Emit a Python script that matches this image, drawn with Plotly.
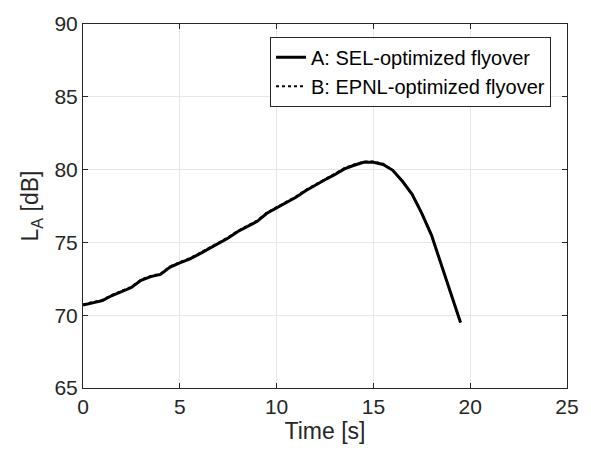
import plotly.graph_objects as go

time_s = [0, 0.5, 1.0, 1.5, 2.0, 2.5, 3.0, 3.5, 4.0, 4.5, 5.0, 5.5, 6.0, 6.5, 7.0, 7.5,
          8.0, 8.5, 9.0, 9.5, 10.0, 10.5, 11.0, 11.5, 12.0, 12.5, 13.0, 13.5, 14.0, 14.5,
          15.0, 15.5, 16.0, 16.5, 17.0, 17.5, 18.0, 18.5, 19.0, 19.5]
la_sel = [70.7, 70.85, 71.0, 71.35, 71.65, 71.9, 72.4, 72.65, 72.8, 73.3, 73.6, 73.85,
          74.2, 74.55, 74.95, 75.3, 75.75, 76.1, 76.45, 77.0, 77.35, 77.7, 78.1, 78.55,
          78.95, 79.3, 79.65, 80.05, 80.3, 80.5, 80.5, 80.35, 79.95, 79.2, 78.3, 77.0,
          75.5, 73.5, 71.6, 69.5]
la_epnl = [70.75, 70.9, 71.05, 71.4, 71.7, 71.95, 72.45, 72.7, 72.85, 73.35, 73.65, 73.9,
           74.25, 74.6, 75.0, 75.35, 75.8, 76.15, 76.5, 77.05, 77.4, 77.75, 78.15, 78.6,
           79.0, 79.35, 79.7, 80.1, 80.35, 80.55, 80.55, 80.4, 79.95, 79.2, 78.3, 77.0,
           75.5, 73.5, 71.6, 69.5]

x_ticks = [0, 5, 10, 15, 20, 25]
y_ticks = [65, 70, 75, 80, 85, 90]

font_family = "Liberation Sans, Arial, sans-serif"
axcol = "#262626"
gridcol = "#e6e6e6"

fig = go.Figure()
fig.add_trace(go.Scatter(x=time_s, y=la_sel, mode="lines",
                         name="A: SEL-optimized flyover",
                         line=dict(color="black", width=3)))
fig.add_trace(go.Scatter(x=time_s, y=la_epnl, mode="lines",
                         name="B: EPNL-optimized flyover",
                         line=dict(color="black", width=2, dash="dot")))

fig.update_layout(
    width=591, height=454,
    margin=dict(l=83, r=20, t=15, b=66),
    plot_bgcolor="white", paper_bgcolor="white",
    font=dict(family=font_family, size=21, color=axcol),
    showlegend=True,
    legend=dict(x=0.967, y=0.965, xanchor="right", yanchor="top",
                bgcolor="white", bordercolor=axcol, borderwidth=1,
                font=dict(size=20, color="black"),
                tracegroupgap=0, itemwidth=30),
)
fig.update_xaxes(range=[0, 25], tickvals=x_ticks, ticktext=[str(v) for v in x_ticks],
                 showgrid=True, gridcolor=gridcol, gridwidth=1,
                 showline=True, linecolor=axcol, linewidth=1, mirror="ticks",
                 ticks="inside", ticklen=5, tickcolor=axcol,
                 zeroline=False,
                 title=dict(text="Time [s]", font=dict(size=23), standoff=5))
fig.update_yaxes(range=[65, 90], tickvals=y_ticks, ticktext=[str(v) for v in y_ticks],
                 showgrid=True, gridcolor=gridcol, gridwidth=1,
                 showline=True, linecolor=axcol, linewidth=1, mirror="ticks",
                 ticks="inside", ticklen=5, tickcolor=axcol,
                 zeroline=False,
                 title=dict(text="L<sub>A</sub> [dB]", font=dict(size=23), standoff=9))

fig.write_html("out.html")
